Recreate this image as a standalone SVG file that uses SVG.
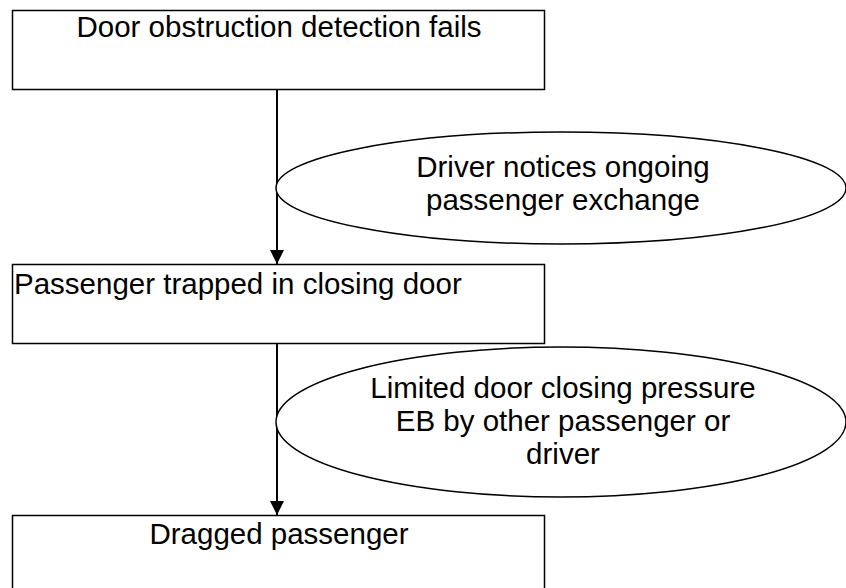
<svg xmlns="http://www.w3.org/2000/svg" width="846" height="588" viewBox="0 0 846 588">
  <style>
    .box { fill: #ffffff; stroke: #000000; stroke-width: 1.5; }
    .oval { fill: #ffffff; stroke: #000000; stroke-width: 1.5; }
    .lbl { font-family: "Liberation Sans", Arial, sans-serif; font-size: 29.5px; fill: #000000; }
    .mid { text-anchor: middle; }
    .edge { stroke: #000000; stroke-width: 2; fill: none; marker-end: url(#arrow); }
  </style>
  <defs>
    <marker id="arrow" markerWidth="16" markerHeight="16" refX="14" refY="7" orient="auto" markerUnits="userSpaceOnUse">
      <path d="M0,0 L14,7 L0,14 Z" fill="#000000"/>
    </marker>
  </defs>
  <rect width="846" height="588" fill="#ffffff"/>

  <g id="connectors">
    <line class="edge" x1="277" y1="90" x2="277" y2="264"/>
    <line class="edge" x1="277" y1="344" x2="277" y2="515"/>
  </g>

  <g id="node-detection-fails">
    <rect class="box" x="12.5" y="10.5" width="532" height="79"/>
    <text class="lbl mid" x="279" y="37">Door obstruction detection fails</text>
  </g>

  <g id="barrier-driver-notices">
    <ellipse class="oval" cx="561" cy="188" rx="285" ry="56"/>
    <text class="lbl mid" x="563" y="177">Driver notices ongoing</text>
    <text class="lbl mid" x="563" y="210">passenger exchange</text>
  </g>

  <g id="node-passenger-trapped">
    <rect class="box" x="12.5" y="264.5" width="532" height="79"/>
    <text class="lbl" x="14" y="294">Passenger trapped in closing door</text>
  </g>

  <g id="barrier-closing-pressure">
    <ellipse class="oval" cx="561" cy="422" rx="285" ry="75"/>
    <text class="lbl mid" x="563" y="398">Limited door closing pressure</text>
    <text class="lbl mid" x="563" y="431">EB by other passenger or</text>
    <text class="lbl mid" x="563" y="464">driver</text>
  </g>

  <g id="node-dragged-passenger">
    <rect class="box" x="12.5" y="515.5" width="532" height="85"/>
    <text class="lbl mid" x="279" y="544">Dragged passenger</text>
  </g>
</svg>
